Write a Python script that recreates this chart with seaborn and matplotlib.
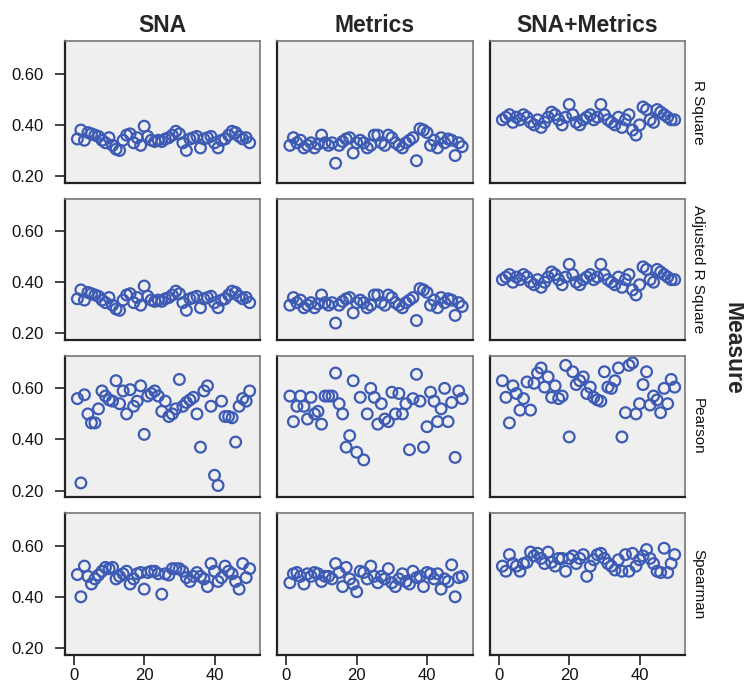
import numpy as np
import pandas as pd
import seaborn as sns
import matplotlib.pyplot as plt

models = ["SNA", "Metrics", "SNA+Metrics"]
measures = ["R Square", "Adjusted R Square", "Pearson", "Spearman"]
case = np.arange(1, 51)

rsq_sna = [0.345, 0.38, 0.34, 0.37, 0.365, 0.36, 0.355, 0.34, 0.33, 0.35,
           0.32, 0.305, 0.30, 0.34, 0.36, 0.365, 0.33, 0.35, 0.32, 0.395,
           0.355, 0.34, 0.335, 0.34, 0.335, 0.345, 0.35, 0.36, 0.375, 0.365,
           0.33, 0.30, 0.345, 0.35, 0.355, 0.31, 0.345, 0.35, 0.355, 0.33,
           0.31, 0.34, 0.345, 0.36, 0.375, 0.37, 0.355, 0.345, 0.35, 0.33]
rsq_met = [0.32, 0.35, 0.33, 0.34, 0.31, 0.32, 0.33, 0.31, 0.325, 0.36,
           0.33, 0.32, 0.33, 0.25, 0.32, 0.335, 0.345, 0.35, 0.29, 0.33,
           0.34, 0.33, 0.31, 0.32, 0.36, 0.36, 0.33, 0.32, 0.36, 0.35,
           0.33, 0.32, 0.31, 0.33, 0.34, 0.35, 0.26, 0.385, 0.38, 0.37,
           0.32, 0.34, 0.31, 0.35, 0.33, 0.345, 0.34, 0.28, 0.33, 0.315]
rsq_both = [0.42, 0.43, 0.44, 0.41, 0.43, 0.42, 0.44, 0.43, 0.41, 0.40,
            0.42, 0.39, 0.41, 0.43, 0.45, 0.44, 0.42, 0.40, 0.43, 0.48,
            0.44, 0.41, 0.40, 0.42, 0.43, 0.44, 0.42, 0.43, 0.48, 0.44,
            0.42, 0.41, 0.40, 0.43, 0.39, 0.42, 0.44, 0.38, 0.36, 0.40,
            0.47, 0.46, 0.42, 0.41, 0.46, 0.45, 0.44, 0.43, 0.42, 0.42]

adj_sna = [0.335, 0.37, 0.33, 0.36, 0.355, 0.35, 0.345, 0.33, 0.32, 0.34,
           0.31, 0.295, 0.29, 0.33, 0.35, 0.355, 0.32, 0.34, 0.31, 0.385,
           0.345, 0.33, 0.325, 0.33, 0.325, 0.335, 0.34, 0.35, 0.365, 0.355,
           0.32, 0.29, 0.335, 0.34, 0.345, 0.30, 0.335, 0.34, 0.345, 0.32,
           0.30, 0.33, 0.335, 0.35, 0.365, 0.36, 0.345, 0.335, 0.34, 0.32]
adj_met = [0.31, 0.34, 0.32, 0.33, 0.30, 0.31, 0.32, 0.30, 0.315, 0.35,
           0.32, 0.31, 0.32, 0.24, 0.31, 0.325, 0.335, 0.34, 0.28, 0.32,
           0.33, 0.32, 0.30, 0.31, 0.35, 0.35, 0.32, 0.31, 0.35, 0.34,
           0.32, 0.31, 0.30, 0.32, 0.33, 0.34, 0.25, 0.375, 0.37, 0.36,
           0.31, 0.33, 0.30, 0.34, 0.32, 0.335, 0.33, 0.27, 0.32, 0.305]
adj_both = [0.41, 0.42, 0.43, 0.40, 0.42, 0.41, 0.43, 0.42, 0.40, 0.39,
            0.41, 0.38, 0.40, 0.42, 0.44, 0.43, 0.41, 0.39, 0.42, 0.47,
            0.43, 0.40, 0.39, 0.41, 0.42, 0.43, 0.41, 0.42, 0.47, 0.43,
            0.41, 0.40, 0.39, 0.42, 0.38, 0.41, 0.43, 0.37, 0.35, 0.39,
            0.46, 0.45, 0.41, 0.40, 0.45, 0.44, 0.43, 0.42, 0.41, 0.41]

prs_sna = [0.56, 0.23, 0.575, 0.50, 0.465, 0.465, 0.52, 0.59, 0.57, 0.555,
           0.55, 0.63, 0.54, 0.59, 0.50, 0.595, 0.53, 0.55, 0.61, 0.42,
           0.57, 0.58, 0.59, 0.57, 0.51, 0.55, 0.49, 0.50, 0.52, 0.635,
           0.53, 0.545, 0.555, 0.565, 0.50, 0.37, 0.59, 0.61, 0.53, 0.26,
           0.22, 0.55, 0.49, 0.49, 0.485, 0.39, 0.53, 0.56, 0.55, 0.59]
prs_met = [0.57, 0.47, 0.53, 0.57, 0.53, 0.48, 0.565, 0.50, 0.51, 0.46,
           0.57, 0.57, 0.57, 0.66, 0.54, 0.50, 0.37, 0.415, 0.63, 0.35,
           0.565, 0.32, 0.50, 0.60, 0.565, 0.46, 0.54, 0.48, 0.47, 0.585,
           0.50, 0.58, 0.50, 0.54, 0.36, 0.56, 0.655, 0.55, 0.37, 0.45,
           0.585, 0.55, 0.47, 0.52, 0.60, 0.47, 0.545, 0.33, 0.59, 0.56]
prs_both = [0.63, 0.565, 0.465, 0.61, 0.58, 0.515, 0.56, 0.625, 0.515, 0.62,
            0.66, 0.68, 0.605, 0.645, 0.565, 0.61, 0.56, 0.57, 0.69, 0.41,
            0.665, 0.615, 0.63, 0.645, 0.58, 0.605, 0.565, 0.555, 0.55, 0.665,
            0.605, 0.60, 0.63, 0.68, 0.41, 0.505, 0.69, 0.70, 0.50, 0.54,
            0.615, 0.665, 0.535, 0.57, 0.555, 0.505, 0.60, 0.54, 0.635, 0.605]

spm_sna = [0.487, 0.40, 0.52, 0.48, 0.45, 0.47, 0.485, 0.50, 0.515, 0.51,
           0.515, 0.47, 0.48, 0.49, 0.50, 0.45, 0.47, 0.49, 0.495, 0.43,
           0.495, 0.50, 0.50, 0.49, 0.41, 0.49, 0.485, 0.51, 0.51, 0.51,
           0.50, 0.475, 0.46, 0.48, 0.495, 0.48, 0.47, 0.44, 0.53, 0.50,
           0.46, 0.475, 0.52, 0.50, 0.49, 0.46, 0.43, 0.53, 0.475, 0.51]
spm_met = [0.455, 0.49, 0.495, 0.48, 0.45, 0.49, 0.48, 0.495, 0.49, 0.46,
           0.48, 0.48, 0.47, 0.53, 0.495, 0.44, 0.515, 0.47, 0.45, 0.42,
           0.50, 0.495, 0.47, 0.52, 0.48, 0.455, 0.48, 0.47, 0.51, 0.455,
           0.44, 0.47, 0.49, 0.46, 0.45, 0.50, 0.475, 0.48, 0.44, 0.495,
           0.49, 0.47, 0.49, 0.43, 0.47, 0.46, 0.525, 0.40, 0.475, 0.48]
spm_both = [0.52, 0.50, 0.565, 0.53, 0.52, 0.50, 0.53, 0.535, 0.575, 0.56,
            0.57, 0.55, 0.53, 0.575, 0.535, 0.52, 0.55, 0.55, 0.50, 0.55,
            0.56, 0.53, 0.55, 0.565, 0.48, 0.52, 0.545, 0.565, 0.57, 0.55,
            0.53, 0.52, 0.505, 0.545, 0.50, 0.565, 0.50, 0.57, 0.52, 0.545,
            0.56, 0.585, 0.55, 0.53, 0.50, 0.495, 0.59, 0.495, 0.53, 0.565]

series = {
    ("R Square", "SNA"): rsq_sna,
    ("R Square", "Metrics"): rsq_met,
    ("R Square", "SNA+Metrics"): rsq_both,
    ("Adjusted R Square", "SNA"): adj_sna,
    ("Adjusted R Square", "Metrics"): adj_met,
    ("Adjusted R Square", "SNA+Metrics"): adj_both,
    ("Pearson", "SNA"): prs_sna,
    ("Pearson", "Metrics"): prs_met,
    ("Pearson", "SNA+Metrics"): prs_both,
    ("Spearman", "SNA"): spm_sna,
    ("Spearman", "Metrics"): spm_met,
    ("Spearman", "SNA+Metrics"): spm_both,
}

frames = []
for (measure, model), vals in series.items():
    frames.append(pd.DataFrame({"Case": case, "Value": vals,
                                "Measure": measure, "Model": model}))
df = pd.concat(frames, ignore_index=True)

sns.set_theme(style="white")
plt.rcParams["font.family"] = ["Liberation Sans", "DejaVu Sans"]

blue = "#3D5BB5"
g = sns.relplot(
    data=df, x="Case", y="Value", row="Measure", col="Model",
    row_order=measures, col_order=models, kind="scatter",
    height=1.5, aspect=1.3, color=blue, s=60, legend=False,
    facet_kws=dict(sharex=True, sharey=True, despine=False),
)

fig = g.figure
fig.set_size_inches(7.44, 6.89)
fig.subplots_adjust(left=0.087, right=0.921, top=0.940, bottom=0.050,
                    wspace=0.087, hspace=0.113)

g.set_axis_labels("", "")

for i, measure in enumerate(measures):
    for j, model in enumerate(models):
        ax = g.axes[i, j]
        ax.set_title("")
        for coll in ax.collections:
            coll.set_facecolor("none")
            coll.set_edgecolor(blue)
            coll.set_linewidth(1.6)
        ax.set_facecolor("#EFEFEF")
        ax.set_xlim(-2.6, 53)
        ax.set_ylim(0.174, 0.727)
        ax.set_xticks([0, 20, 40])
        ax.set_yticks([0.20, 0.40, 0.60])
        ax.set_yticklabels(["0.20", "0.40", "0.60"])
        for side in ("left", "bottom"):
            ax.spines[side].set_color("#222222")
            ax.spines[side].set_linewidth(1.6)
        for side in ("top", "right"):
            ax.spines[side].set_color("#777777")
            ax.spines[side].set_linewidth(1.2)
        ax.tick_params(axis="both", direction="out", length=7, width=1.3,
                       color="#333333", labelsize=12, labelcolor="#111111")
        ax.tick_params(axis="y", pad=8, left=(j == 0), labelleft=(j == 0))
        ax.tick_params(axis="x", pad=3, bottom=(i == len(measures) - 1),
                       labelbottom=(i == len(measures) - 1))
        if i == 0:
            ax.set_title(model, fontsize=16.5, fontweight="bold", pad=7)
        if j == len(models) - 1:
            ax.annotate(measure, xy=(1, 0.5), xycoords="axes fraction",
                        xytext=(13, 0), textcoords="offset pixels",
                        rotation=270, ha="center", va="center",
                        fontsize=11, color="#111111")

fig.text(733 / 744, 1 - 348 / 689, "Measure", rotation=270, ha="center",
         va="center", fontsize=16.5, fontweight="bold")

fig.savefig("out.png", dpi=100)
